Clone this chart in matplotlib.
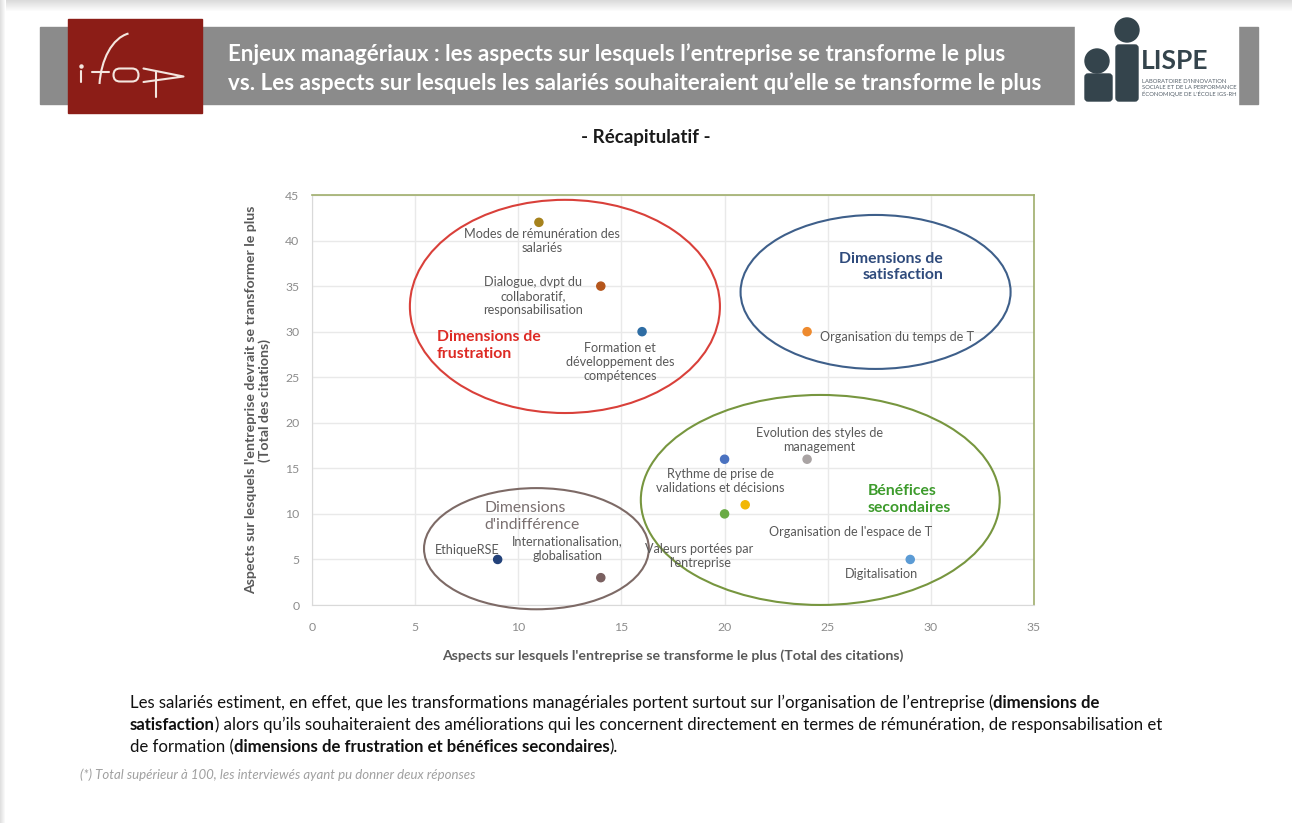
import numpy as np
import matplotlib
matplotlib.use("Agg")
import matplotlib.pyplot as plt
from matplotlib.patches import Ellipse, Rectangle, Circle, FancyBboxPatch, FancyBboxPatch
from matplotlib.path import Path
from matplotlib.patches import PathPatch

plt.rcParams['font.family'] = ['Lato', 'DejaVu Sans']

# ---- data -------------------------------------------------------------
items = [
    "Modes de rémunération des\nsalariés",
    "Dialogue, dvpt du\ncollaboratif,\nresponsabilisation",
    "Formation et\ndéveloppement des\ncompétences",
    "Organisation du temps de T",
    "Evolution des styles de\nmanagement",
    "Rythme de prise de\nvalidations et décisions",
    "Organisation de l'espace de T",
    "Valeurs portées par\nl'entreprise",
    "Digitalisation",
    "EthiqueRSE",
    "Internationalisation,\nglobalisation",
]
# x: aspects on which the company transforms the most
transforme = [11, 14, 16, 24, 24, 20, 21, 20, 29, 9, 14]
# y: aspects on which the company should transform the most
souhaite = [42, 35, 30, 30, 16, 16, 11, 10, 5, 5, 3]

x_ticks = [0, 5, 10, 15, 20, 25, 30, 35]
y_ticks = [0, 5, 10, 15, 20, 25, 30, 35, 40, 45]

# ---- styling / layout ---------------------------------------------------
point_colors = ["#a6821c", "#b5561c", "#2e6da4", "#ee8a2e", "#a9a3a3",
                "#4a72c0", "#f2b705", "#6aab45", "#5b9bd5", "#23427a", "#7a6060"]
# label offsets (points) and alignment per item
label_offsets = [(2, -13.5, 'center'), (-49, -7, 'center'), (-16, -22, 'center'),
                 (9, -4, 'left'), (9, 14, 'center'), (-3, -16, 'center'),
                 (76, -19.5, 'center'), (-18, -30, 'center'), (-21, -10.5, 'center'),
                 (-22, 7, 'center'), (-24, 21, 'center')]

groups = [
    # (center x, center y, width, height, edge colour)
    (12.26, 32.77, 15.03, 23.4, "#d9403a"),
    (27.32, 34.36, 13.09, 16.9, "#3e5f8a"),
    (24.64, 11.53, 17.40, 23.05, "#77963f"),
    (10.88, 6.18, 10.90, 13.3, "#7d6a66"),
]

W, H = 1292, 823
fig = plt.figure(figsize=(W / 100, H / 100), dpi=100)
fig.patch.set_facecolor("white")

# full-page overlay in pixel coordinates
ov = fig.add_axes([0, 0, 1, 1], zorder=0)
ov.set_xlim(0, W)
ov.set_ylim(H, 0)
ov.axis("off")

# page shadow
grad = np.linspace(0.86, 1.0, 12)[:, None] * np.ones((1, 10))
ov.imshow(np.dstack([grad] * 3), extent=(0, W, 12, 0), aspect='auto', zorder=0)
gradl = np.linspace(0.88, 1.0, 6)[None, :] * np.ones((10, 1))
ov.imshow(np.dstack([gradl] * 3), extent=(0, 6, H, 0), aspect='auto', zorder=0)

# header band
ov.add_patch(Rectangle((40, 27), 1218, 77, color="#8b8b8b", zorder=1))
ov.add_patch(Rectangle((68, 19), 134, 94, color="#8c1d17", zorder=2))

# hand-drawn "ifop" mark
ink = dict(color="#f4e6df", lw=1.5, solid_capstyle="round", zorder=3)
ov.plot([80.7, 80.7], [71, 82], **ink)
ov.plot([80.7], [65.5], marker="o", ms=2.2, color="#f4e6df", zorder=3)
f_path = Path([(128.5, 33.5), (112, 38), (101, 60), (99.5, 84)],
              [Path.MOVETO, Path.CURVE4, Path.CURVE4, Path.CURVE4])
ov.add_patch(PathPatch(f_path, fill=False, edgecolor="#f4e6df", lw=1.5, zorder=3))
ov.plot([92, 108.5], [71.5, 71.5], **ink)
ov.add_patch(FancyBboxPatch((113.5, 68.5), 25, 13, boxstyle="round,pad=0,rounding_size=6.5",
                            fill=False, edgecolor="#f4e6df", lw=1.5, zorder=3))
ov.plot([143.5, 183.5, 143.5], [68.5, 76.5, 82], **ink)
ov.plot([156, 156], [71.5, 97], **ink)

ov.text(228, 54, "Enjeux managériaux : les aspects sur lesquels l’entreprise se transforme le plus",
        color="white", fontsize=16.1, fontweight="bold", va="center", zorder=3)
ov.text(228, 83, "vs. Les aspects sur lesquels les salariés souhaiteraient qu’elle se transforme le plus",
        color="white", fontsize=16.1, fontweight="bold", va="center", zorder=3)

# LISPE logo
ov.add_patch(Rectangle((1075, 12), 163, 108, color="white", zorder=2))
logo_c = "#34444c"
ov.add_patch(Circle((1127, 30), 12, color=logo_c, zorder=3))
ov.add_patch(FancyBboxPatch((1116, 45), 22, 56, boxstyle="round,pad=0,rounding_size=3",
                            color=logo_c, zorder=3))
ov.add_patch(Circle((1097, 61), 12, color=logo_c, zorder=3))
ov.add_patch(FancyBboxPatch((1085, 74), 27, 27, boxstyle="round,pad=0,rounding_size=3",
                            color=logo_c, zorder=3))
ov.text(1141, 61, "LISPE", color=logo_c, fontsize=19, fontweight="bold",
        va="center", ha="left", zorder=3)
ov.text(1142, 88, "LABORATOIRE D'INNOVATION\nSOCIALE ET DE LA PERFORMANCE\nÉCONOMIQUE DE L'ÉCOLE IGS-RH",
        color="#55606a", fontsize=4.2, va="center", ha="left", linespacing=1.25, zorder=3)

# sub title
ov.text(646, 137, "- Récapitulatif -", fontsize=13.5, fontweight="bold",
        color="#1a1a1a", ha="center", va="center")

# ---- scatter chart --------------------------------------------------------
ax = fig.add_axes([312 / W, 1 - 605 / H, 722 / W, 410 / H], zorder=1)
ax.set_facecolor("white")
ax.set_xlim(0, 35)
ax.set_ylim(0, 45)
ax.set_xticks(x_ticks)
ax.set_yticks(y_ticks)
ax.grid(True, color="#e9e9e9", linewidth=1.0)
ax.set_axisbelow(True)
for side in ("left", "bottom"):
    ax.spines[side].set_color("#d9d9d9")
for side in ("top", "right"):
    ax.spines[side].set_color("#9fae6c")
    ax.spines[side].set_linewidth(1.2)
ax.tick_params(axis="both", length=0, labelsize=8.8, labelcolor="#8c8c8c")
ax.tick_params(axis="x", pad=12)
ax.tick_params(axis="y", pad=9)

ax.scatter(transforme, souhaite, s=34, c=point_colors, zorder=4, clip_on=False)

for name, xv, yv, (dx, dy, ha) in zip(items, transforme, souhaite, label_offsets):
    ax.annotate(name, (xv, yv), xytext=(dx, dy), textcoords="offset points",
                ha=ha, va="center", multialignment=ha, fontsize=9.1,
                color="#595959", linespacing=1.2, zorder=5)

for cx, cy, w, h, col in groups:
    ax.add_patch(Ellipse((cx, cy), w, h, fill=False, edgecolor=col,
                         linewidth=1.5, clip_on=False, zorder=3))

ax.text(6.06, 28.5, "Dimensions de\nfrustration", color="#dd2a24", fontsize=11.3,
        fontweight="bold", ha="left", va="center", linespacing=1.25)
ax.text(30.6, 37.1, "Dimensions de\nsatisfaction", color="#2f4b7c", fontsize=11.3,
        fontweight="bold", ha="right", va="center", multialignment="right",
        linespacing=1.25)
ax.text(26.95, 11.6, "Bénéfices\nsecondaires", color="#3d9b2c", fontsize=11.3,
        fontweight="bold", ha="left", va="center", linespacing=1.25)
ax.text(8.34, 9.7, "Dimensions\nd'indifférence", color="#7a7070", fontsize=11.3,
        ha="left", va="center", linespacing=1.25)

ax.set_xlabel("Aspects sur lesquels l'entreprise se transforme le plus (Total des citations)",
              fontsize=10.2, fontweight="bold", color="#595959", labelpad=12)
ax.set_ylabel("Aspects sur lesquels l'entreprise devrait se transformer le plus\n(Total des citations)",
              fontsize=10.2, fontweight="bold", color="#595959", labelpad=10, linespacing=1.2)

# ---- commentary ------------------------------------------------------------
renderer = fig.canvas.get_renderer()


def rich_line(x, y, parts, size=12.1, color="#111111"):
    for txt, weight in parts:
        t = ov.text(x, y, txt, fontsize=size, fontweight=weight, color=color,
                    ha="left", va="center")
        x += t.get_window_extent(renderer=renderer).width


rich_line(130, 703, [("Les salariés estiment, en effet, que les transformations managériales "
                      "portent surtout sur l’organisation de l’entreprise (", "normal"),
                     ("dimensions de", "bold")])
rich_line(130, 725, [("satisfaction", "bold"),
                     (") alors qu’ils souhaiteraient des améliorations qui les concernent "
                      "directement en termes de rémunération, de responsabilisation et", "normal")])
rich_line(130, 747, [("de formation (", "normal"),
                     ("dimensions de frustration et bénéfices secondaires", "bold"),
                     (").", "normal")])

ov.text(80, 775, "(*) Total supérieur à 100, les interviewés ayant pu donner deux réponses",
        fontsize=9.5, style="italic", color="#a0a0a0", ha="left", va="center")

fig.savefig("out.png", dpi=100)
